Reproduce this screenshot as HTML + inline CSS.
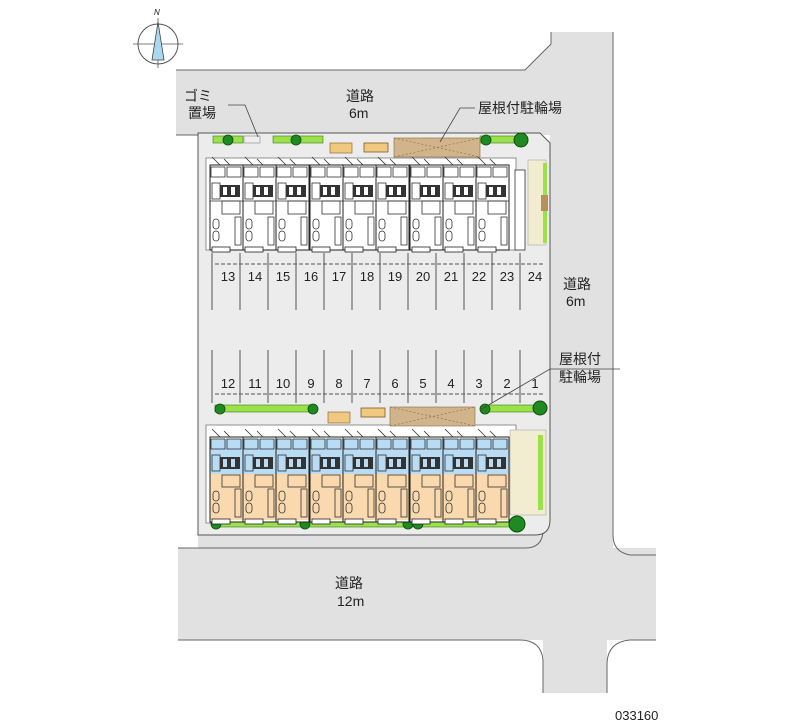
<!DOCTYPE html>
<html><head><meta charset="utf-8"><style>
html,body{margin:0;padding:0;background:#fff;}
svg{display:block;}
text{font-family:"Liberation Sans","Noto Sans CJK JP",sans-serif;fill:#222;}
</style></head><body>
<svg width="800" height="727" viewBox="0 0 800 727" xmlns="http://www.w3.org/2000/svg">
<defs>
<g id="ut">
  <rect x="0" y="0" width="33" height="85" fill="#fff" stroke="#222" stroke-width="1"/>
  <path d="M2 -8 l8 8 M14 -6 l6 6" stroke="#333" fill="none" stroke-width="0.8"/>
  <rect x="1" y="2" width="14" height="10" fill="none" stroke="#333" stroke-width="0.8"/>
  <rect x="17" y="2" width="14" height="10" fill="none" stroke="#333" stroke-width="0.8"/>
  <rect x="10" y="20" width="20" height="12" fill="#333"/>
  <rect x="13" y="22" width="4" height="8" fill="#fff"/><rect x="21" y="22" width="4" height="8" fill="#fff"/>
  <rect x="2" y="18" width="8" height="16" fill="none" stroke="#333" stroke-width="0.8"/>
  <line x1="0" y1="36" x2="33" y2="36" stroke="#333" stroke-width="0.8"/>
  <rect x="12" y="36" width="18" height="13" fill="none" stroke="#333" stroke-width="0.8"/>
  <rect x="3" y="54" width="6" height="10" rx="3" fill="none" stroke="#333" stroke-width="0.8"/>
  <rect x="3" y="66" width="6" height="10" rx="3" fill="none" stroke="#333" stroke-width="0.8"/>
  <rect x="25" y="52" width="6" height="28" fill="none" stroke="#333" stroke-width="0.8"/>
  <rect x="2" y="82" width="18" height="5" fill="#fff" stroke="#222" stroke-width="0.8"/>
</g>
<g id="ub">
  <rect x="0" y="0" width="33" height="85" fill="#fff" stroke="#222" stroke-width="1"/>
  <rect x="0.5" y="2" width="32" height="35" fill="#b9dcf5"/>
  <rect x="0.5" y="37" width="32" height="46" fill="#fad9ae"/>
  <rect x="0" y="0" width="33" height="85" fill="none" stroke="#222" stroke-width="1"/>
  <path d="M2 -8 l8 8 M14 -6 l6 6" stroke="#333" fill="none" stroke-width="0.8"/>
  <rect x="1" y="2" width="14" height="10" fill="none" stroke="#333" stroke-width="0.8"/>
  <rect x="17" y="2" width="14" height="10" fill="none" stroke="#333" stroke-width="0.8"/>
  <rect x="10" y="20" width="20" height="12" fill="#333"/>
  <rect x="13" y="22" width="4" height="8" fill="#b9dcf5"/><rect x="21" y="22" width="4" height="8" fill="#b9dcf5"/>
  <rect x="2" y="18" width="8" height="16" fill="none" stroke="#333" stroke-width="0.8"/>
  <rect x="12" y="38" width="18" height="12" fill="none" stroke="#333" stroke-width="0.8"/>
  <rect x="3" y="54" width="6" height="10" rx="3" fill="none" stroke="#333" stroke-width="0.8"/>
  <rect x="3" y="66" width="6" height="10" rx="3" fill="none" stroke="#333" stroke-width="0.8"/>
  <rect x="25" y="52" width="6" height="28" fill="none" stroke="#333" stroke-width="0.8"/>
  <rect x="2" y="82" width="18" height="5" fill="#fff" stroke="#222" stroke-width="0.8"/>
</g>
<g id="tree"><circle r="5" fill="#1f8a1f" stroke="#0b4d0b" stroke-width="0.8"/></g>
</defs>

<!-- roads -->
<path d="M176 70 H525 L551 44 V32 H613 V548 H656 V640 H607 V693 H543 V640 H178 V548 H550 V135 H176 Z" fill="#e1e1e1"/>
<rect x="198" y="500" width="357" height="50" fill="#e1e1e1"/>
<path d="M176 70 H525 L551 44 V32" stroke="#666" fill="none" stroke-width="1"/>
<line x1="613" y1="32" x2="613" y2="535" stroke="#666" stroke-width="1"/>
<path d="M613 535 Q613 552 630 555 H656" stroke="#666" fill="none"/>
<path d="M178 548 H525 Q543 548 543 530" stroke="#666" fill="none"/>
<path d="M178 640 H520 Q541 640 543 660 V693" stroke="#666" fill="none"/>
<path d="M656 640 H630 Q607 642 607 665 V693" stroke="#666" fill="none"/>
<line x1="176" y1="135" x2="198" y2="135" stroke="#666"/>

<!-- lot -->
<path d="M198 133 H540 L550 143 V520 Q550 535 535 535 H198 Z" fill="#ececec" stroke="#555" stroke-width="1"/>
<rect x="206" y="158" width="310" height="92" fill="#fff" stroke="#777" stroke-width="0.8"/>
<rect x="206" y="425" width="310" height="98" fill="#fff" stroke="#777" stroke-width="0.8"/>

<!-- green strips -->
<rect x="213" y="136" width="30" height="7" fill="#9be24a" stroke="#3a7a1a" stroke-width="0.6"/>
<rect x="244" y="136" width="16" height="7" fill="#eee" stroke="#888" stroke-width="0.6"/>
<rect x="273" y="136" width="50" height="7" fill="#9be24a" stroke="#3a7a1a" stroke-width="0.6"/>
<rect x="480" y="136" width="45" height="7" fill="#9be24a" stroke="#3a7a1a" stroke-width="0.6"/>
<use href="#tree" x="228" y="140"/><use href="#tree" x="296" y="140"/><use href="#tree" x="486" y="140"/>
<circle cx="521" cy="140" r="7" fill="#1f8a1f" stroke="#0b4d0b"/>
<rect x="330" y="143" width="22" height="10" fill="#f0c880" stroke="#805a20" stroke-width="0.6"/>
<rect x="364" y="143" width="24" height="9" fill="#f0c880" stroke="#805a20" stroke-width="0.8"/>
<rect x="394" y="138" width="86" height="19" fill="#d2b48c" stroke="#8a6a40" stroke-width="0.6"/>
<path d="M394 138 L480 157 M394 157 L480 138" stroke="#8a6a40" stroke-dasharray="2 2" stroke-width="0.6"/>
<rect x="528" y="160" width="18" height="85" fill="#f2ecd0" stroke="#999" stroke-width="0.5"/>
<rect x="543" y="163" width="4" height="80" fill="#9be24a"/>
<rect x="541" y="195" width="7" height="16" fill="#b8905a"/>
<rect x="515" y="170" width="10" height="80" fill="#fff" stroke="#333" stroke-width="0.8"/>

<rect x="215" y="405" width="100" height="7" fill="#9be24a" stroke="#3a7a1a" stroke-width="0.6"/>
<use href="#tree" x="220" y="409"/><use href="#tree" x="313" y="409"/>
<rect x="328" y="412" width="22" height="11" fill="#f0c880" stroke="#805a20" stroke-width="0.6"/>
<rect x="361" y="408" width="24" height="9" fill="#f0c880" stroke="#805a20" stroke-width="0.8"/>
<rect x="390" y="407" width="85" height="19" fill="#d2b48c" stroke="#8a6a40" stroke-width="0.6"/>
<path d="M390 407 L475 426 M390 426 L475 407" stroke="#8a6a40" stroke-dasharray="2 2" stroke-width="0.6"/>
<rect x="485" y="405" width="55" height="7" fill="#9be24a" stroke="#3a7a1a" stroke-width="0.6"/>
<use href="#tree" x="485" y="409"/>
<circle cx="540" cy="408" r="7" fill="#1f8a1f" stroke="#0b4d0b"/>
<rect x="510" y="430" width="36" height="85" fill="#f2ecd0" stroke="#999" stroke-width="0.5"/>
<rect x="538" y="435" width="5" height="75" fill="#9be24a"/>
<rect x="213" y="521" width="310" height="6" fill="#9be24a" stroke="#3a7a1a" stroke-width="0.6"/>
<use href="#tree" x="216" y="524"/><use href="#tree" x="305" y="524"/><use href="#tree" x="408" y="524"/><use href="#tree" x="418" y="524"/>
<circle cx="517" cy="524" r="8" fill="#1f8a1f" stroke="#0b4d0b"/>

<!-- units -->
<use href="#ut" x="210" y="165"/><use href="#ut" x="243" y="165"/><use href="#ut" x="276" y="165"/>
<use href="#ut" x="310" y="165"/><use href="#ut" x="343" y="165"/><use href="#ut" x="376" y="165"/>
<use href="#ut" x="410" y="165"/><use href="#ut" x="443" y="165"/><use href="#ut" x="476" y="165"/>
<use href="#ub" x="210" y="437"/><use href="#ub" x="243" y="437"/><use href="#ub" x="276" y="437"/>
<use href="#ub" x="310" y="437"/><use href="#ub" x="343" y="437"/><use href="#ub" x="376" y="437"/>
<use href="#ub" x="410" y="437"/><use href="#ub" x="443" y="437"/><use href="#ub" x="476" y="437"/>

<!-- parking lines -->
<g stroke="#555" stroke-width="1">
<line x1="212" y1="253" x2="212" y2="310"/><line x1="240" y1="253" x2="240" y2="310"/><line x1="268" y1="253" x2="268" y2="310"/><line x1="296" y1="253" x2="296" y2="310"/><line x1="324" y1="253" x2="324" y2="310"/><line x1="352" y1="253" x2="352" y2="310"/><line x1="380" y1="253" x2="380" y2="310"/><line x1="408" y1="253" x2="408" y2="310"/><line x1="436" y1="253" x2="436" y2="310"/><line x1="464" y1="253" x2="464" y2="310"/><line x1="492" y1="253" x2="492" y2="310"/><line x1="520" y1="253" x2="520" y2="310"/>
<line x1="212" y1="350" x2="212" y2="403"/><line x1="240" y1="350" x2="240" y2="403"/><line x1="268" y1="350" x2="268" y2="403"/><line x1="296" y1="350" x2="296" y2="403"/><line x1="324" y1="350" x2="324" y2="403"/><line x1="352" y1="350" x2="352" y2="403"/><line x1="380" y1="350" x2="380" y2="403"/><line x1="408" y1="350" x2="408" y2="403"/><line x1="436" y1="350" x2="436" y2="403"/><line x1="464" y1="350" x2="464" y2="403"/><line x1="492" y1="350" x2="492" y2="403"/><line x1="520" y1="350" x2="520" y2="403"/>
</g>
<g stroke="#555" stroke-width="1" stroke-dasharray="4 2">
<line x1="215" y1="264" x2="545" y2="264"/><line x1="215" y1="394" x2="545" y2="394"/>
</g>
<g font-size="13" text-anchor="middle">
<text x="228" y="281">13</text><text x="255" y="281">14</text><text x="283" y="281">15</text><text x="311" y="281">16</text><text x="339" y="281">17</text><text x="367" y="281">18</text><text x="395" y="281">19</text><text x="423" y="281">20</text><text x="451" y="281">21</text><text x="479" y="281">22</text><text x="507" y="281">23</text><text x="535" y="281">24</text>
<text x="228" y="388">12</text><text x="255" y="388">11</text><text x="283" y="388">10</text><text x="311" y="388">9</text><text x="339" y="388">8</text><text x="367" y="388">7</text><text x="395" y="388">6</text><text x="423" y="388">5</text><text x="451" y="388">4</text><text x="479" y="388">3</text><text x="507" y="388">2</text><text x="535" y="388">1</text>
</g>

<!-- labels -->
<g font-size="14">
<text x="346" y="101">道路</text><text x="349" y="118">6m</text>
<text x="184" y="101">ゴミ</text><text x="188" y="118">置場</text>
<text x="478" y="113">屋根付駐輪場</text>
<text x="563" y="289">道路</text><text x="566" y="306">6m</text>
<text x="559" y="364">屋根付</text><text x="559" y="382">駐輪場</text>
<text x="335" y="588">道路</text><text x="337" y="606">12m</text>
</g>
<path d="M228 105 H245 L258 137" stroke="#444" fill="none" stroke-width="0.8"/>
<path d="M475 108 H460 L440 142" stroke="#444" fill="none" stroke-width="0.8"/>
<path d="M620 369 H550 L480 410" stroke="#444" fill="none" stroke-width="0.8"/>
<text x="615" y="720" font-size="13">033160</text>

<!-- compass -->
<circle cx="158" cy="44" r="20" fill="none" stroke="#555" stroke-width="1"/>
<line x1="133" y1="44" x2="183" y2="44" stroke="#555" stroke-width="0.8"/>
<line x1="158" y1="18" x2="158" y2="68" stroke="#555" stroke-width="0.8"/>
<path d="M158 22 L152 60 H164 Z" fill="#a9d8f0" stroke="#444" stroke-width="0.8"/>
<text x="154" y="15" font-size="8" font-style="italic">N</text>
</svg>
</body></html>
